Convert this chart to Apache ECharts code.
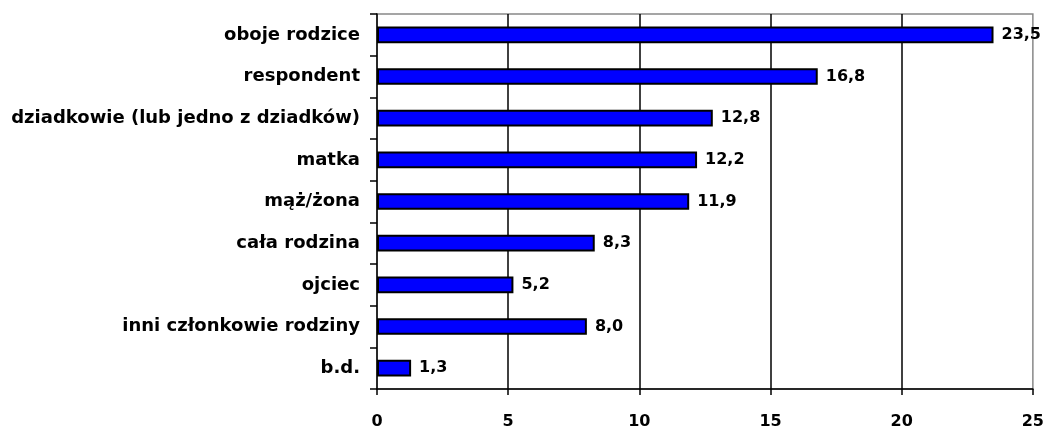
<!DOCTYPE html>
<html><head><meta charset="utf-8">
<script src="https://cdn.jsdelivr.net/npm/echarts@6/dist/echarts.min.js"></script>
<style>html,body{margin:0;padding:0;background:#fff}#c{width:1047px;height:430px}</style>
</head><body><div id="c"></div>
<script>
const categories = ['oboje rodzice','respondent','dziadkowie (lub jedno z dziadków)','matka','mąż/żona','cała rodzina','ojciec','inni członkowie rodziny','b.d.'];
const values = [23.5,16.8,12.8,12.2,11.9,8.3,5.2,8.0,1.3];
const xTicks = [0,5,10,15,20,25];

const chart = echarts.init(document.getElementById('c'), null, {renderer:'canvas'});
const ff = '"DejaVu Sans", "Liberation Sans", sans-serif';
chart.setOption({
  animation:false,
  grid:{left:377, right:14, top:14, bottom:39, show:true, borderColor:'#888', borderWidth:1.5, containLabel:false},
  xAxis:{type:'value', min:xTicks[0], max:xTicks[xTicks.length-1], interval:5,
    axisLine:{show:true, lineStyle:{color:'#000', width:1.5}},
    axisTick:{show:true, length:6, lineStyle:{color:'#000', width:1.5}},
    axisLabel:{margin:25, formatter:v=>String(v), fontFamily:ff, fontWeight:'bold', fontSize:16, color:'#000'},
    splitLine:{show:true, showMinLine:false, showMaxLine:false, lineStyle:{color:'#000', width:1.5}}
  },
  yAxis:{type:'category', inverse:true, data:categories,
    axisLine:{show:true, lineStyle:{color:'#000', width:1.5}},
    axisTick:{show:true, length:7, lineStyle:{color:'#000', width:1.5}},
    axisLabel:{margin:17, fontFamily:ff, fontWeight:'bold', fontSize:18, color:'#000'}
  },
  series:[{type:'bar', data:values, barWidth:'40%',
    itemStyle:{color:'#0000ff', borderColor:'#000', borderWidth:2},
    label:{show:true, position:'right', distance:8, formatter:p=>p.value.toFixed(1).replace('.',','),
      fontFamily:ff, fontWeight:'bold', fontSize:16, color:'#000'}
  }]
});
</script></body></html>
